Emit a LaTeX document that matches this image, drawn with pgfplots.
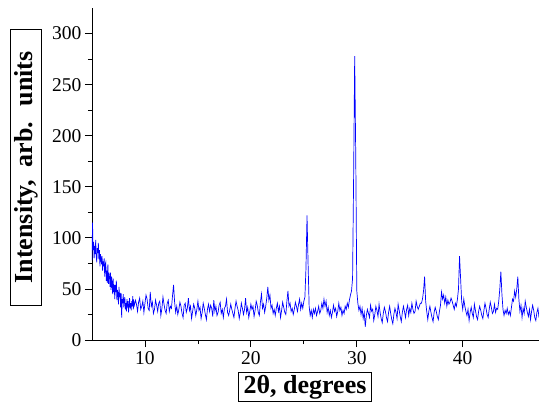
\documentclass[border=0pt]{standalone}
\usepackage{fontspec}
\setmainfont{Liberation Serif}
\usepackage{pgfplots}
\pgfplotsset{compat=1.18}
\begin{document}
\begin{tikzpicture}
\begin{axis}[
  name=ax,
  scale only axis,
  width=447pt, height=332pt,
  xmin=5, xmax=47.2, ymin=0, ymax=325,
  axis x line*=bottom, axis y line*=left,
  axis line style={line width=0.8pt, black},
  xtick={10,20,30,40},
  ytick={0,50,100,150,200,250,300},
  minor x tick num=1, minor y tick num=1,
  tick align=outside,
  major tick length=7pt, minor tick length=4pt,
  every tick/.style={line width=0.8pt, black},
  /pgf/number format/assume math mode=true,
  tick label style={font=\fontsize{19.5}{22}\selectfont},
  xticklabel style={yshift=-1pt},
  xlabel={\textbf{2θ, degrees}},
  ylabel={\textbf{Intensity,~ arb.~ units}},
  xlabel style={at={(axis description cs:0.4765,-0.1416)}, anchor=center, draw=black, line width=0.7pt, font=\fontsize{26}{30}\selectfont, inner xsep=5pt, inner ysep=2pt, text height=19pt, text depth=6pt},
  ylabel style={at={(axis description cs:-0.1477,0.52)}, anchor=center, draw=black, line width=0.7pt, font=\fontsize{26}{30}\selectfont, inner xsep=22pt, inner ysep=3pt, text height=19pt, text depth=6pt},
]
\addplot[color=blue, line width=0.7pt] coordinates {
(5.00,78)(5.05,115)(5.10,88)(5.15,96)(5.20,80)(5.25,92)(5.30,84)(5.35,98)(5.40,82)(5.45,76)
(5.50,90)(5.55,85)(5.60,95)(5.65,79)(5.70,88)(5.75,72)(5.80,84)(5.85,80)(5.90,74)(5.95,82)
(6.00,68)(6.05,77)(6.10,72)(6.15,80)(6.20,62)(6.25,74)(6.30,76)(6.35,58)(6.40,68)(6.45,56)
(6.50,74)(6.55,55)(6.60,66)(6.65,62)(6.70,52)(6.75,66)(6.80,49)(6.85,62)(6.90,56)(6.95,45)
(7.00,60)(7.05,47)(7.10,54)(7.15,40)(7.20,54)(7.25,47)(7.30,58)(7.35,39)(7.40,49)(7.45,45)
(7.50,35)(7.55,52)(7.60,42)(7.65,46)(7.70,32)(7.75,46)(7.80,22)(7.85,40)(7.90,36)(7.95,45)
(8.00,32)(8.05,38)(8.10,42)(8.15,30)(8.20,36)(8.25,28)(8.30,40)(8.35,34)(8.40,38)(8.45,27)
(8.50,35)(8.55,41)(8.60,31)(8.65,36)(8.70,29)(8.75,38)(8.80,33)(8.85,43)(8.90,30)(8.95,37)
(9.0,34)(9.1,39)(9.2,35)(9.3,28)(9.4,37)(9.5,41)(9.6,30)(9.7,33)(9.8,38)(9.9,27)
(10.0,36)(10.1,44)(10.2,40)(10.3,31)(10.4,29)(10.5,47)(10.6,33)(10.7,37)(10.8,26)(10.9,30)
(11.0,39)(11.1,34)(11.2,28)(11.3,36)(11.4,38)(11.5,24)(11.6,31)(11.7,42)(11.8,35)(11.9,29)
(12.0,26)(12.1,36)(12.2,39)(12.3,28)(12.4,33)(12.5,31)(12.6,43)(12.7,54)(12.8,37)(12.9,27)
(13.0,33)(13.1,25)(13.2,30)(13.3,37)(13.4,33)(13.5,26)(13.6,22)(13.7,34)(13.8,36)(13.9,27)
(14.0,31)(14.1,41)(14.2,29)(14.3,33)(14.4,21)(14.5,28)(14.6,35)(14.7,31)(14.8,24)(14.9,30)
(15.0,38)(15.1,29)(15.2,32)(15.3,21)(15.4,27)(15.5,36)(15.6,31)(15.7,25)(15.8,20)(15.9,30)
(16.0,35)(16.1,28)(16.2,34)(16.3,31)(16.4,23)(16.5,39)(16.6,28)(16.7,33)(16.8,24)(16.9,27)
(17.0,34)(17.1,37)(17.2,26)(17.3,30)(17.4,22)(17.5,31)(17.6,33)(17.7,40)(17.8,27)(17.9,24)
(18.0,29)(18.1,35)(18.2,30)(18.3,26)(18.4,22)(18.5,31)(18.6,38)(18.7,33)(18.8,29)(18.9,21)
(19.0,27)(19.1,36)(19.2,31)(19.3,25)(19.4,30)(19.5,41)(19.6,27)(19.7,32)(19.8,22)(19.9,28)
(20.0,35)(20.1,30)(20.2,33)(20.3,23)(20.4,29)(20.5,38)(20.6,34)(20.7,27)(20.8,24)(20.9,37)
(21.0,45)(21.1,31)(21.2,35)(21.3,27)(21.4,33)(21.5,41)(21.6,52)(21.7,39)(21.8,44)(21.9,31)
(22.0,34)(22.1,26)(22.2,30)(22.3,24)(22.4,31)(22.5,36)(22.6,28)(22.7,33)(22.8,22)(22.9,29)
(23.0,37)(23.1,32)(23.2,27)(23.3,25)(23.4,38)(23.5,48)(23.6,33)(23.7,36)(23.8,28)(23.9,31)
(24.0,25)(24.1,30)(24.2,37)(24.3,33)(24.4,28)(24.5,35)(24.6,40)(24.7,30)(24.8,36)(24.9,31)
(25.0,38)(25.1,42)(25.2,70)(25.3,122)(25.4,75)(25.5,33)(25.6,24)(25.7,29)(25.8,22)(25.9,30)
(26.0,26)(26.1,31)(26.2,24)(26.3,28)(26.4,33)(26.5,26)(26.6,29)(26.7,36)(26.8,31)(26.9,40)
(27.0,33)(27.1,38)(27.2,27)(27.3,32)(27.4,24)(27.5,29)(27.6,22)(27.7,27)(27.8,34)(27.9,28)
(28.0,31)(28.1,23)(28.2,28)(28.3,36)(28.4,29)(28.5,32)(28.6,24)(28.7,29)(28.8,26)(28.9,33)
(29.0,30)(29.1,36)(29.2,32)(29.3,39)(29.4,44)(29.5,48)(29.6,60)(29.7,160)(29.8,278)(29.9,180)
(30.0,48)(30.1,36)(30.2,29)(30.3,33)(30.4,25)(30.5,31)(30.6,21)(30.7,27)(30.8,13)(30.9,24)
(31.0,30)(31.1,26)(31.2,22)(31.3,34)(31.4,28)(31.5,30)(31.6,19)(31.7,25)(31.8,33)(31.9,29)
(32.0,23)(32.1,35)(32.2,27)(32.3,21)(32.4,17)(32.5,26)(32.6,32)(32.7,28)(32.8,22)(32.9,18)
(33.0,27)(33.1,33)(33.2,26)(33.3,20)(33.4,16)(33.5,25)(33.6,31)(33.7,27)(33.8,21)(33.9,35)
(34.0,29)(34.1,23)(34.2,18)(34.3,27)(34.4,33)(34.5,28)(34.6,22)(34.7,30)(34.8,34)(34.9,24)
(35.0,31)(35.1,27)(35.2,36)(35.3,30)(35.4,26)(35.5,28)(35.6,38)(35.7,33)(35.8,30)(35.9,33)
(36.0,36)(36.1,36)(36.2,40)(36.3,48)(36.4,62)(36.5,38)(36.6,28)(36.7,20)(36.8,28)(36.9,33)
(37.0,27)(37.1,22)(37.2,18)(37.3,27)(37.4,32)(37.5,28)(37.6,23)(37.7,20)(37.8,28)(37.9,34)
(38.0,47)(38.1,40)(38.2,44)(38.3,36)(38.4,42)(38.5,33)(38.6,39)(38.7,35)(38.8,37)(38.9,41)
(39.0,38)(39.1,34)(39.2,30)(39.3,36)(39.4,33)(39.5,40)(39.6,50)(39.7,82)(39.8,60)(39.9,38)
(40.0,30)(40.1,40)(40.2,33)(40.3,28)(40.4,24)(40.5,30)(40.6,19)(40.7,27)(40.8,32)(40.9,26)
(41.0,22)(41.1,35)(41.2,29)(41.3,23)(41.4,20)(41.5,28)(41.6,33)(41.7,29)(41.8,24)(41.9,21)
(42.0,29)(42.1,36)(42.2,31)(42.3,25)(42.4,22)(42.5,30)(42.6,37)(42.7,32)(42.8,26)(42.9,28)
(43.0,35)(43.1,27)(43.2,31)(43.3,30)(43.4,38)(43.5,50)(43.6,67)(43.7,45)(43.8,30)(43.9,24)
(44.0,29)(44.1,26)(44.2,31)(44.3,25)(44.4,28)(44.5,24)(44.6,32)(44.7,40)(44.8,38)(44.9,48)
(45.0,42)(45.1,50)(45.2,62)(45.3,40)(45.4,28)(45.5,34)(45.6,22)(45.7,31)(45.8,26)(45.9,38)
(46.0,32)(46.1,27)(46.2,23)(46.3,30)(46.4,20)(46.5,28)(46.6,34)(46.7,29)(46.8,22)(46.9,19)
(47.0,27)(47.1,31)(47.2,22)
};
\end{axis}
\pgfresetboundingbox
\path ([xshift=-92pt,yshift=-73pt]ax.south west) rectangle ++(550pt,413pt);
\end{tikzpicture}
\end{document}
